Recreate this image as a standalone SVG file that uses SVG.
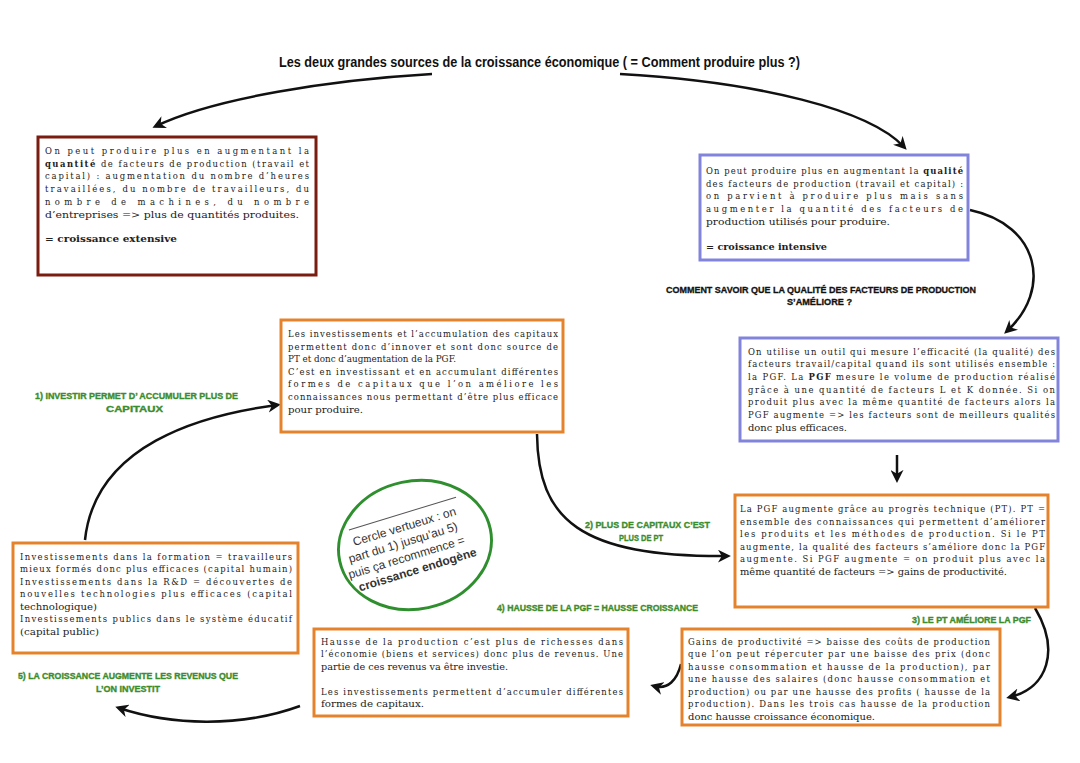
<svg xmlns="http://www.w3.org/2000/svg" width="1080" height="763" viewBox="0 0 1080 763">
<style>
.t{font-family:"DejaVu Serif Condensed","DejaVu Serif","Liberation Serif",serif;font-size:9.4px;fill:#222}
.b{font-weight:bold}
.g{font-family:"Liberation Sans",Arial,sans-serif;font-weight:bold;font-size:9.2px;fill:#3b8c2c;stroke:#3b8c2c;stroke-width:0.35}
.k{font-family:"Liberation Sans",Arial,sans-serif;font-weight:bold;font-size:9px;fill:#111;stroke:#111;stroke-width:0.3}
.ttl{font-family:"Liberation Sans",Arial,sans-serif;font-weight:bold;font-size:14px;fill:#111}
.box{fill:#fff;stroke-width:3}
.red{stroke:#7a1c10}
.blue{stroke:#8284dc}
.orange{stroke:#e5832c}
.arr{fill:none;stroke:#111;stroke-width:2.5;marker-end:url(#ah)}
.c{font-family:"Liberation Sans",Arial,sans-serif;font-size:12px;fill:#333}
</style>
<defs>
<marker id="ah" viewBox="0 0 10 10" refX="7" refY="5" markerWidth="13" markerHeight="13" markerUnits="userSpaceOnUse" orient="auto">
<path d="M0,0 L10,5 L0,10 L3,5 z" fill="#111"/>
</marker>
</defs>
<rect width="1080" height="763" fill="#fff"/>

<text class="ttl" x="279" y="67" textLength="521" lengthAdjust="spacingAndGlyphs">Les deux grandes sources de la croissance économique ( = Comment produire plus ?)</text>

<g id="connectors">
<path class="arr" d="M432,74 C330,80 215,98 156,126"/>
<path class="arr" d="M620,74 C760,82 870,110 904,147"/>
<path class="arr" d="M970,210 C1040,225 1052,290 1007,331"/>
<path class="arr" d="M897,455 L897,479"/>
<path class="arr" d="M1035,608 C1060,650 1048,688 1010,697"/>
<path class="arr" d="M681,664 C677,680 668,690 654,686"/>
<path class="arr" d="M300,706 C240,728 170,725 119,708"/>
<path class="arr" d="M85,540 C95,445 200,415 277,405"/>
<path class="arr" d="M537,434 C538,520 580,557 727,556"/>
</g>

<g id="box-quantite">
<rect class="box red" x="38" y="137" width="278" height="138"/>
<text class="t" x="45" y="154" textLength="264" lengthAdjust="spacing">On peut produire plus en augmentant la</text>
<text class="t" x="45" y="166.7" textLength="264" lengthAdjust="spacing"><tspan class="b">quantité</tspan> de facteurs de production (travail et</text>
<text class="t" x="45" y="179.4" textLength="264" lengthAdjust="spacing">capital) : augmentation du nombre d’heures</text>
<text class="t" x="45" y="192.1" textLength="264" lengthAdjust="spacing">travaillées, du nombre de travailleurs, du</text>
<text class="t" x="45" y="204.8" textLength="264" lengthAdjust="spacing">nombre de machines, du nombre</text>
<text class="t" x="45" y="217.5" textLength="254" lengthAdjust="spacingAndGlyphs">d’entreprises =&gt; plus de quantités produites.</text>
<text class="t b" x="45" y="241.5" textLength="132" lengthAdjust="spacingAndGlyphs">= croissance extensive</text>
</g>

<g id="box-qualite">
<rect class="box blue" x="700" y="155" width="268" height="105"/>
<text class="t" x="706" y="174" textLength="257" lengthAdjust="spacing">On peut produire plus en augmentant la <tspan class="b">qualité</tspan></text>
<text class="t" x="706" y="186.6" textLength="257" lengthAdjust="spacing">des facteurs de production (travail et capital) :</text>
<text class="t" x="706" y="199.3" textLength="257" lengthAdjust="spacing">on parvient à produire plus mais sans</text>
<text class="t" x="706" y="212" textLength="257" lengthAdjust="spacing">augmenter la quantité des facteurs de</text>
<text class="t" x="706" y="224.6" textLength="184" lengthAdjust="spacingAndGlyphs">production utilisés pour produire.</text>
<text class="t b" x="706" y="249.5" textLength="121" lengthAdjust="spacingAndGlyphs">= croissance intensive</text>
</g>

<g id="question">
<text class="k" x="666" y="293" textLength="310" lengthAdjust="spacingAndGlyphs">COMMENT SAVOIR QUE LA QUALITÉ DES FACTEURS DE PRODUCTION</text>
<text class="k" x="787" y="305" textLength="65" lengthAdjust="spacingAndGlyphs">S’AMÉLIORE ?</text>
</g>

<g id="box-pgf">
<rect class="box blue" x="740" y="338" width="318" height="103"/>
<text class="t" x="748" y="354.5" textLength="307" lengthAdjust="spacing">On utilise un outil qui mesure l’efficacité (la qualité) des</text>
<text class="t" x="748" y="367.2" textLength="307" lengthAdjust="spacing">facteurs travail/capital quand ils sont utilisés ensemble :</text>
<text class="t" x="748" y="379.8" textLength="307" lengthAdjust="spacing">la PGF. La <tspan class="b">PGF</tspan> mesure le volume de production réalisé</text>
<text class="t" x="748" y="392.5" textLength="307" lengthAdjust="spacing">grâce à une quantité de facteurs L et K donnée. Si on</text>
<text class="t" x="748" y="405.2" textLength="307" lengthAdjust="spacing">produit plus avec la même quantité de facteurs alors la</text>
<text class="t" x="748" y="417.8" textLength="307" lengthAdjust="spacing">PGF augmente =&gt; les facteurs sont de meilleurs qualités</text>
<text class="t" x="748" y="430.5" textLength="99" lengthAdjust="spacingAndGlyphs">donc plus efficaces.</text>
</g>

<g id="box-investissements">
<rect class="box orange" x="281" y="320" width="282" height="112"/>
<text class="t" x="288" y="337" textLength="270" lengthAdjust="spacing">Les investissements et l’accumulation des capitaux</text>
<text class="t" x="288" y="349.6" textLength="270" lengthAdjust="spacing">permettent donc d’innover et sont donc source de</text>
<text class="t" x="288" y="362.2" textLength="168" lengthAdjust="spacingAndGlyphs">PT et donc d’augmentation de la PGF.</text>
<text class="t" x="288" y="374.8" textLength="270" lengthAdjust="spacing">C’est en investissant et en accumulant différentes</text>
<text class="t" x="288" y="387.4" textLength="270" lengthAdjust="spacing">formes de capitaux que l’on améliore les</text>
<text class="t" x="288" y="400" textLength="270" lengthAdjust="spacing">connaissances nous permettant d’être plus efficace</text>
<text class="t" x="288" y="412.6" textLength="75" lengthAdjust="spacingAndGlyphs">pour produire.</text>
</g>

<g id="box-pt">
<rect class="box orange" x="735" y="495" width="313" height="112"/>
<text class="t" x="740" y="512" textLength="305" lengthAdjust="spacing">La PGF augmente grâce au progrès technique (PT). PT =</text>
<text class="t" x="740" y="524.6" textLength="305" lengthAdjust="spacing">ensemble des connaissances qui permettent d’améliorer</text>
<text class="t" x="740" y="537.2" textLength="305" lengthAdjust="spacing">les produits et les méthodes de production. Si le PT</text>
<text class="t" x="740" y="549.8" textLength="305" lengthAdjust="spacing">augmente, la qualité des facteurs s’améliore donc la PGF</text>
<text class="t" x="740" y="562.4" textLength="305" lengthAdjust="spacing">augmente. Si PGF augmente = on produit plus avec la</text>
<text class="t" x="740" y="575" textLength="267" lengthAdjust="spacingAndGlyphs">même quantité de facteurs =&gt; gains de productivité.</text>
</g>

<g id="box-formes">
<rect class="box orange" x="13" y="543" width="285" height="110"/>
<text class="t" x="20" y="559.5" textLength="272" lengthAdjust="spacing">Investissements dans la formation = travailleurs</text>
<text class="t" x="20" y="572" textLength="272" lengthAdjust="spacing">mieux formés donc plus efficaces (capital humain)</text>
<text class="t" x="20" y="584.5" textLength="272" lengthAdjust="spacing">Investissements dans la R&amp;D = découvertes de</text>
<text class="t" x="20" y="597" textLength="272" lengthAdjust="spacing">nouvelles technologies plus efficaces (capital</text>
<text class="t" x="20" y="609.5" textLength="77" lengthAdjust="spacingAndGlyphs">technologique)</text>
<text class="t" x="20" y="622" textLength="272" lengthAdjust="spacing">Investissements publics dans le système éducatif</text>
<text class="t" x="20" y="634.5" textLength="79" lengthAdjust="spacingAndGlyphs">(capital public)</text>
</g>

<g id="box-revenus">
<rect class="box orange" x="314" y="629" width="314" height="87"/>
<text class="t" x="321" y="644.5" textLength="302" lengthAdjust="spacing">Hausse de la production c’est plus de richesses dans</text>
<text class="t" x="321" y="657" textLength="302" lengthAdjust="spacing">l’économie (biens et services) donc plus de revenus. Une</text>
<text class="t" x="321" y="669.5" textLength="187" lengthAdjust="spacingAndGlyphs">partie de ces revenus va être investie.</text>
<text class="t" x="321" y="694.5" textLength="302" lengthAdjust="spacing">Les investissements permettent d’accumuler différentes</text>
<text class="t" x="321" y="707" textLength="103" lengthAdjust="spacingAndGlyphs">formes de capitaux.</text>
</g>

<g id="box-gains">
<rect class="box orange" x="682" y="629" width="318" height="96"/>
<text class="t" x="688" y="644.5" textLength="302" lengthAdjust="spacing">Gains de productivité =&gt; baisse des coûts de production</text>
<text class="t" x="688" y="657" textLength="302" lengthAdjust="spacing">que l’on peut répercuter par une baisse des prix (donc</text>
<text class="t" x="688" y="669.5" textLength="302" lengthAdjust="spacing">hausse consommation et hausse de la production), par</text>
<text class="t" x="688" y="682" textLength="302" lengthAdjust="spacing">une hausse des salaires (donc hausse consommation et</text>
<text class="t" x="688" y="694.5" textLength="302" lengthAdjust="spacing">production) ou par une hausse des profits ( hausse de la</text>
<text class="t" x="688" y="707" textLength="302" lengthAdjust="spacing">production). Dans les trois cas hausse de la production</text>
<text class="t" x="688" y="719.5" textLength="187" lengthAdjust="spacingAndGlyphs">donc hausse croissance économique.</text>
</g>

<g id="labels">
<text class="g" x="35" y="399" textLength="203" lengthAdjust="spacingAndGlyphs">1) INVESTIR  PERMET D’ ACCUMULER PLUS DE</text>
<text class="g" x="106" y="412" textLength="57" lengthAdjust="spacingAndGlyphs">CAPITAUX</text>
<text class="g" x="585" y="528" textLength="125" lengthAdjust="spacingAndGlyphs">2) PLUS DE CAPITAUX C’EST</text>
<text class="g" x="619" y="541" textLength="44" lengthAdjust="spacingAndGlyphs">PLUS DE PT</text>
<text class="g" x="912" y="623" textLength="119" lengthAdjust="spacingAndGlyphs">3) LE PT AMÉLIORE LA PGF</text>
<text class="g" x="497" y="611" textLength="201" lengthAdjust="spacingAndGlyphs">4) HAUSSE DE LA PGF = HAUSSE CROISSANCE</text>
<text class="g" x="18" y="679" textLength="220" lengthAdjust="spacingAndGlyphs">5) LA CROISSANCE AUGMENTE LES REVENUS QUE</text>
<text class="g" x="96" y="692" textLength="64" lengthAdjust="spacingAndGlyphs">L’ON INVESTIT</text>
</g>

<g id="cercle">
<ellipse cx="415" cy="545" rx="77" ry="64" transform="rotate(-12 415 545)" fill="none" stroke="#2f8f2f" stroke-width="3"/>
<g transform="translate(413,548) rotate(-17)">
<line x1="-56" y1="-36" x2="56" y2="-36" stroke="#555" stroke-width="1"/>
<text class="c" x="-2" y="-19" text-anchor="middle">Cercle vertueux : on</text>
<text class="c" x="-8" y="-4" text-anchor="middle">part du 1) jusqu’au 5)</text>
<text class="c" x="-9" y="11" text-anchor="middle">puis ça recommence =</text>
<text class="c" x="-2" y="26" text-anchor="middle" font-weight="bold">croissance endogène</text>
</g>
</g>
</svg>
